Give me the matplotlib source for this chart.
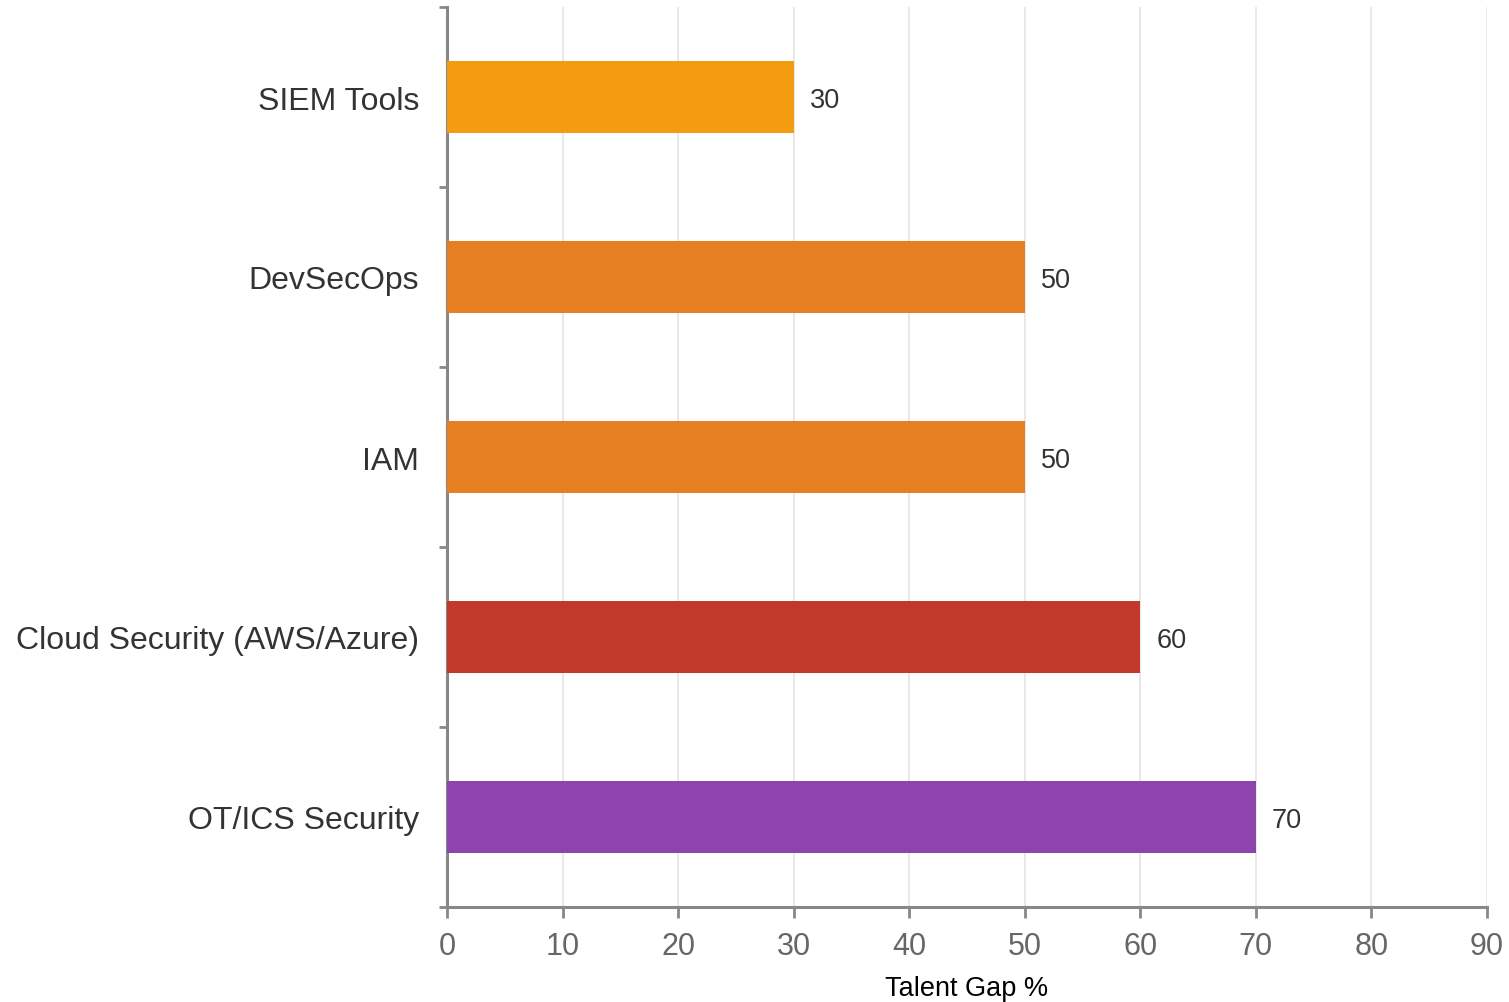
import matplotlib
matplotlib.use("Agg")
import matplotlib.pyplot as plt
import numpy as np

categories = ["SIEM Tools", "DevSecOps", "IAM", "Cloud Security (AWS/Azure)", "OT/ICS Security"]
values = [30, 50, 50, 60, 70]
colors = ["#F39C12", "#E67E22", "#E67E22", "#C0392B", "#8E44AD"]
xticks = [0, 10, 20, 30, 40, 50, 60, 70, 80, 90]
xlabel = "Talent Gap %"

plt.rcParams['font.family'] = ['Liberation Sans', 'DejaVu Sans']

dpi = 100
fig = plt.figure(figsize=(1509 / dpi, 1003 / dpi), dpi=dpi)
W, H = 1509, 1003
left, right, top, bottom = 447, 1487, 8, 908
ax = fig.add_axes([left / W, 1 - bottom / H, (right - left) / W, (bottom - top) / H])

pos = np.arange(len(categories))
ax.barh(pos, values, height=0.4, color=colors, zorder=3)
ax.set_ylim(len(categories) - 0.5, -0.5)
ax.set_xlim(0, 90)

for p, v in zip(pos, values):
    ax.text(v + 1.4, p, f"{v}", va="center_baseline", ha="left", fontsize=19.5, color="#333333", zorder=4)

ax.set_yticks(pos)
ax.set_yticklabels(categories, fontsize=23, color="#333333")
ax.tick_params(axis="y", which="major", length=0, pad=20)
ax.set_yticks(np.arange(-0.5, len(categories)), minor=True)
ax.tick_params(axis="y", which="minor", length=6, width=2, color="#888888")

ax.set_xticks(xticks)
ax.set_xticklabels([str(t) for t in xticks], fontsize=22, color="#666666")
ax.tick_params(axis="x", which="major", length=8, width=2, color="#888888", pad=9.5)

ax.grid(axis="x", color="#e6e6e6", linewidth=1.3, zorder=0)
ax.set_axisbelow(True)

for s in ["top", "right"]:
    ax.spines[s].set_visible(False)
for s in ["left", "bottom"]:
    ax.spines[s].set_color("#888888")
    ax.spines[s].set_linewidth(2.2)

ax.set_xlabel(xlabel, fontsize=19.5, color="#000000", labelpad=10)

fig.savefig("out.png", dpi=dpi, facecolor="white")
